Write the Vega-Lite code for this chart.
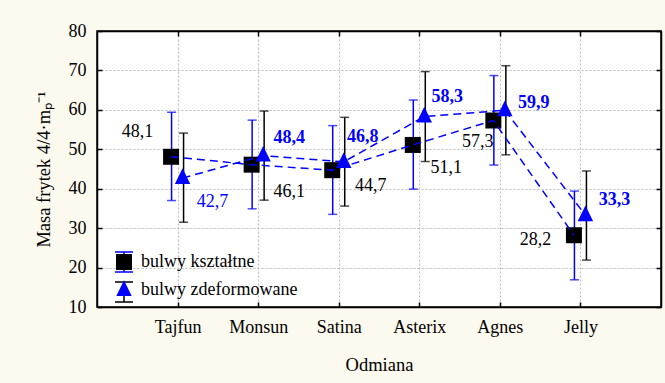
{
  "$schema": "https://vega.github.io/schema/vega-lite/v6.json",
  "width": 564,
  "height": 276,
  "autosize": {"type": "none"},
  "padding": {"left": 97, "top": 31, "right": 4, "bottom": 76},
  "background": "#FCF9EE",
  "config": {
    "view": {"fill": "white", "stroke": "black", "strokeWidth": 1.5},
    "font": "Liberation Serif",
    "locale": {"number": {"decimal": ",", "thousands": " ", "grouping": [3], "currency": ["", " zł"]}},
    "axis": {
      "labelFont": "Liberation Serif", "titleFont": "Liberation Serif",
      "labelColor": "black", "titleColor": "black",
      "domainColor": "black", "domainWidth": 1.5,
      "tickColor": "black", "tickWidth": 1.5,
      "gridColor": "#BBBBBB", "gridDash": [2, 2], "gridWidth": 1,
      "labelFontSize": 18, "titleFontSize": 18.5, "titleFontWeight": "normal",
      "labelOverlap": false
    },
    "legend": {
      "labelFont": "Liberation Serif", "labelFontSize": 18, "labelColor": "black",
      "symbolSize": 400, "orient": "none", "legendX": 16, "legendY": 220,
      "padding": 0, "rowPadding": 4, "labelOffset": 6
    }
  },
  "data": {"values": [
    {"Odmiana": "Tajfun", "seria": "bulwy kształtne", "mean": 48.1, "lo": 37.0, "hi": 59.4},
    {"Odmiana": "Monsun", "seria": "bulwy kształtne", "mean": 46.1, "lo": 34.9, "hi": 57.4},
    {"Odmiana": "Satina", "seria": "bulwy kształtne", "mean": 44.7, "lo": 33.5, "hi": 56.0},
    {"Odmiana": "Asterix", "seria": "bulwy kształtne", "mean": 51.1, "lo": 39.9, "hi": 62.5},
    {"Odmiana": "Agnes", "seria": "bulwy kształtne", "mean": 57.3, "lo": 46.0, "hi": 68.7},
    {"Odmiana": "Jelly", "seria": "bulwy kształtne", "mean": 28.2, "lo": 16.9, "hi": 39.4},
    {"Odmiana": "Tajfun", "seria": "bulwy zdeformowane", "mean": 42.7, "lo": 31.5, "hi": 54.1},
    {"Odmiana": "Monsun", "seria": "bulwy zdeformowane", "mean": 48.4, "lo": 37.1, "hi": 59.7},
    {"Odmiana": "Satina", "seria": "bulwy zdeformowane", "mean": 46.8, "lo": 35.6, "hi": 58.1},
    {"Odmiana": "Asterix", "seria": "bulwy zdeformowane", "mean": 58.3, "lo": 46.9, "hi": 69.7},
    {"Odmiana": "Agnes", "seria": "bulwy zdeformowane", "mean": 59.9, "lo": 48.6, "hi": 71.2},
    {"Odmiana": "Jelly", "seria": "bulwy zdeformowane", "mean": 33.3, "lo": 21.9, "hi": 44.5}
  ]},
  "resolve": {"axis": {"x": "independent", "y": "independent"}},
  "layer": [
    {
      "mark": {"type": "point", "opacity": 0},
      "encoding": {
        "x": {
          "field": "Odmiana", "type": "nominal",
          "sort": ["Tajfun", "Monsun", "Satina", "Asterix", "Agnes", "Jelly"],
          "scale": {"type": "point", "padding": 1},
          "axis": {"title": "Odmiana", "labelAngle": 0, "grid": true, "tickSize": -5, "labelPadding": 16, "titlePadding": 19}
        },
        "y": {
          "field": "mean", "type": "quantitative",
          "scale": {"domain": [10, 80], "nice": false, "zero": false},
          "axis": {"title": "Masa frytek 4/4·mₚ⁻¹", "values": [10, 20, 30, 40, 50, 60, 70, 80], "tickSize": -5, "labelPadding": 16, "titlePadding": 15, "grid": true}
        }
      }
    },
    {
      "mark": {"type": "point", "opacity": 0},
      "encoding": {
        "x": {
          "field": "Odmiana", "type": "nominal",
          "sort": ["Tajfun", "Monsun", "Satina", "Asterix", "Agnes", "Jelly"],
          "scale": {"type": "point", "padding": 1},
          "axis": {"orient": "top", "labels": false, "title": null, "grid": false, "tickSize": -5}
        },
        "y": {
          "field": "mean", "type": "quantitative",
          "axis": {"orient": "right", "labels": false, "title": null, "grid": false, "tickSize": -5, "values": [10, 20, 30, 40, 50, 60, 70, 80]}
        }
      }
    },
    {
      "encoding": {
        "x": {
          "field": "Odmiana", "type": "nominal",
          "sort": ["Tajfun", "Monsun", "Satina", "Asterix", "Agnes", "Jelly"],
          "scale": {"type": "point", "padding": 1},
          "axis": null
        }
      },
      "layer": [
        {
          "transform": [{"filter": "datum.seria == 'bulwy kształtne'"}],
          "mark": {"type": "rule", "strokeWidth": 1.5, "xOffset": -6},
          "encoding": {
            "y": {"field": "lo", "type": "quantitative", "axis": null},
            "y2": {"field": "hi"},
            "stroke": {
              "field": "seria", "type": "nominal",
              "scale": {"range": ["#0000FF", "black"]},
              "legend": {"title": null, "symbolType": "M-0.9,-1H0.9M0,-1V1M-0.9,1H0.9", "symbolStrokeWidth": 1.5, "symbolFillColor": "transparent", "labelExpr": "''", "zindex": 0}
            }
          }
        },
        {
          "transform": [{"filter": "datum.seria == 'bulwy zdeformowane'"}],
          "mark": {"type": "rule", "strokeWidth": 1.5, "xOffset": 6},
          "encoding": {
            "y": {"field": "lo", "type": "quantitative", "axis": null},
            "y2": {"field": "hi"},
            "stroke": {"field": "seria", "type": "nominal"}
          }
        },
        {
          "transform": [{"filter": "datum.seria == 'bulwy kształtne'"}, {"fold": ["lo", "hi"], "as": ["k", "v"]}],
          "mark": {"type": "tick", "orient": "horizontal", "size": 9, "thickness": 1.5, "color": "#0000FF", "xOffset": -6},
          "encoding": {"y": {"field": "v", "type": "quantitative", "axis": null}}
        },
        {
          "transform": [{"filter": "datum.seria == 'bulwy zdeformowane'"}, {"fold": ["lo", "hi"], "as": ["k", "v"]}],
          "mark": {"type": "tick", "orient": "horizontal", "size": 9, "thickness": 1.5, "color": "black", "xOffset": 6},
          "encoding": {"y": {"field": "v", "type": "quantitative", "axis": null}}
        },
        {
          "transform": [{"filter": "datum.seria == 'bulwy kształtne'"}],
          "mark": {"type": "point", "filled": true, "size": 400, "opacity": 1, "strokeWidth": 0, "xOffset": -6.5},
          "encoding": {
            "y": {"field": "mean", "type": "quantitative", "axis": null},
            "fill": {"field": "seria", "type": "nominal", "scale": {"domain": ["bulwy kształtne", "bulwy zdeformowane"], "range": ["black", "#0000FF"]}, "legend": {"title": null, "zindex": 1}},
            "shape": {"field": "seria", "type": "nominal", "scale": {"domain": ["bulwy kształtne", "bulwy zdeformowane"], "range": ["M-0.8,-0.8H0.8V0.8H-0.8Z", "M0,-0.97L0.77,0.6H-0.77Z"]}, "legend": {"title": null, "zindex": 1}}
          }
        },
        {
          "transform": [{"filter": "datum.seria == 'bulwy zdeformowane'"}],
          "mark": {"type": "point", "filled": true, "size": 400, "opacity": 1, "strokeWidth": 0, "xOffset": 5},
          "encoding": {
            "y": {"field": "mean", "type": "quantitative", "axis": null},
            "fill": {"field": "seria", "type": "nominal"},
            "shape": {"field": "seria", "type": "nominal"}
          }
        },
        {
          "transform": [{"filter": "datum.seria == 'bulwy kształtne'"}],
          "mark": {"type": "line", "color": "#0000FF", "strokeDash": [8, 5], "strokeWidth": 1.5, "xOffset": -6.5},
          "encoding": {"y": {"field": "mean", "type": "quantitative", "axis": null}}
        },
        {
          "transform": [{"filter": "datum.seria == 'bulwy zdeformowane'"}],
          "mark": {"type": "line", "color": "#0000FF", "strokeDash": [8, 5], "strokeWidth": 1.5, "xOffset": 5},
          "encoding": {"y": {"field": "mean", "type": "quantitative", "axis": null}}
        },
        {
          "transform": [{"filter": "datum.seria == 'bulwy kształtne' && datum.Odmiana == 'Tajfun'"}],
          "mark": {"type": "text", "fontSize": 18, "color": "black", "align": "center", "baseline": "middle", "dx": -40, "dy": -25},
          "encoding": {"y": {"field": "mean", "type": "quantitative", "axis": null}, "text": {"field": "mean", "type": "quantitative", "format": ".1f"}}
        },
        {
          "transform": [{"filter": "datum.seria == 'bulwy kształtne' && datum.Odmiana == 'Monsun'"}],
          "mark": {"type": "text", "fontSize": 18, "color": "black", "align": "center", "baseline": "middle", "dx": 31, "dy": 27},
          "encoding": {"y": {"field": "mean", "type": "quantitative", "axis": null}, "text": {"field": "mean", "type": "quantitative", "format": ".1f"}}
        },
        {
          "transform": [{"filter": "datum.seria == 'bulwy kształtne' && datum.Odmiana == 'Satina'"}],
          "mark": {"type": "text", "fontSize": 18, "color": "black", "align": "center", "baseline": "middle", "dx": 32, "dy": 16},
          "encoding": {"y": {"field": "mean", "type": "quantitative", "axis": null}, "text": {"field": "mean", "type": "quantitative", "format": ".1f"}}
        },
        {
          "transform": [{"filter": "datum.seria == 'bulwy kształtne' && datum.Odmiana == 'Asterix'"}],
          "mark": {"type": "text", "fontSize": 18, "color": "black", "align": "center", "baseline": "middle", "dx": 27, "dy": 23},
          "encoding": {"y": {"field": "mean", "type": "quantitative", "axis": null}, "text": {"field": "mean", "type": "quantitative", "format": ".1f"}}
        },
        {
          "transform": [{"filter": "datum.seria == 'bulwy kształtne' && datum.Odmiana == 'Agnes'"}],
          "mark": {"type": "text", "fontSize": 18, "color": "black", "align": "center", "baseline": "middle", "dx": -22, "dy": 21},
          "encoding": {"y": {"field": "mean", "type": "quantitative", "axis": null}, "text": {"field": "mean", "type": "quantitative", "format": ".1f"}}
        },
        {
          "transform": [{"filter": "datum.seria == 'bulwy kształtne' && datum.Odmiana == 'Jelly'"}],
          "mark": {"type": "text", "fontSize": 18, "color": "black", "align": "center", "baseline": "middle", "dx": -45, "dy": 5},
          "encoding": {"y": {"field": "mean", "type": "quantitative", "axis": null}, "text": {"field": "mean", "type": "quantitative", "format": ".1f"}}
        },
        {
          "transform": [{"filter": "datum.seria == 'bulwy zdeformowane' && datum.Odmiana == 'Tajfun'"}],
          "mark": {"type": "text", "fontSize": 18, "color": "#0000FF", "align": "center", "baseline": "middle", "dx": 35, "dy": 24},
          "encoding": {"y": {"field": "mean", "type": "quantitative", "axis": null}, "text": {"field": "mean", "type": "quantitative", "format": ".1f"}}
        },
        {
          "transform": [{"filter": "datum.seria == 'bulwy zdeformowane' && datum.Odmiana == 'Monsun'"}],
          "mark": {"type": "text", "fontSize": 18, "fontWeight": "bold", "color": "#0000FF", "align": "center", "baseline": "middle", "dx": 31, "dy": -18},
          "encoding": {"y": {"field": "mean", "type": "quantitative", "axis": null}, "text": {"field": "mean", "type": "quantitative", "format": ".1f"}}
        },
        {
          "transform": [{"filter": "datum.seria == 'bulwy zdeformowane' && datum.Odmiana == 'Satina'"}],
          "mark": {"type": "text", "fontSize": 18, "fontWeight": "bold", "color": "#0000FF", "align": "center", "baseline": "middle", "dx": 24, "dy": -25},
          "encoding": {"y": {"field": "mean", "type": "quantitative", "axis": null}, "text": {"field": "mean", "type": "quantitative", "format": ".1f"}}
        },
        {
          "transform": [{"filter": "datum.seria == 'bulwy zdeformowane' && datum.Odmiana == 'Asterix'"}],
          "mark": {"type": "text", "fontSize": 18, "fontWeight": "bold", "color": "#0000FF", "align": "center", "baseline": "middle", "dx": 28, "dy": -20},
          "encoding": {"y": {"field": "mean", "type": "quantitative", "axis": null}, "text": {"field": "mean", "type": "quantitative", "format": ".1f"}}
        },
        {
          "transform": [{"filter": "datum.seria == 'bulwy zdeformowane' && datum.Odmiana == 'Agnes'"}],
          "mark": {"type": "text", "fontSize": 18, "fontWeight": "bold", "color": "#0000FF", "align": "center", "baseline": "middle", "dx": 34, "dy": -7},
          "encoding": {"y": {"field": "mean", "type": "quantitative", "axis": null}, "text": {"field": "mean", "type": "quantitative", "format": ".1f"}}
        },
        {
          "transform": [{"filter": "datum.seria == 'bulwy zdeformowane' && datum.Odmiana == 'Jelly'"}],
          "mark": {"type": "text", "fontSize": 18, "fontWeight": "bold", "color": "#0000FF", "align": "center", "baseline": "middle", "dx": 34, "dy": -15},
          "encoding": {"y": {"field": "mean", "type": "quantitative", "axis": null}, "text": {"field": "mean", "type": "quantitative", "format": ".1f"}}
        }
      ]
    }
  ]
}
